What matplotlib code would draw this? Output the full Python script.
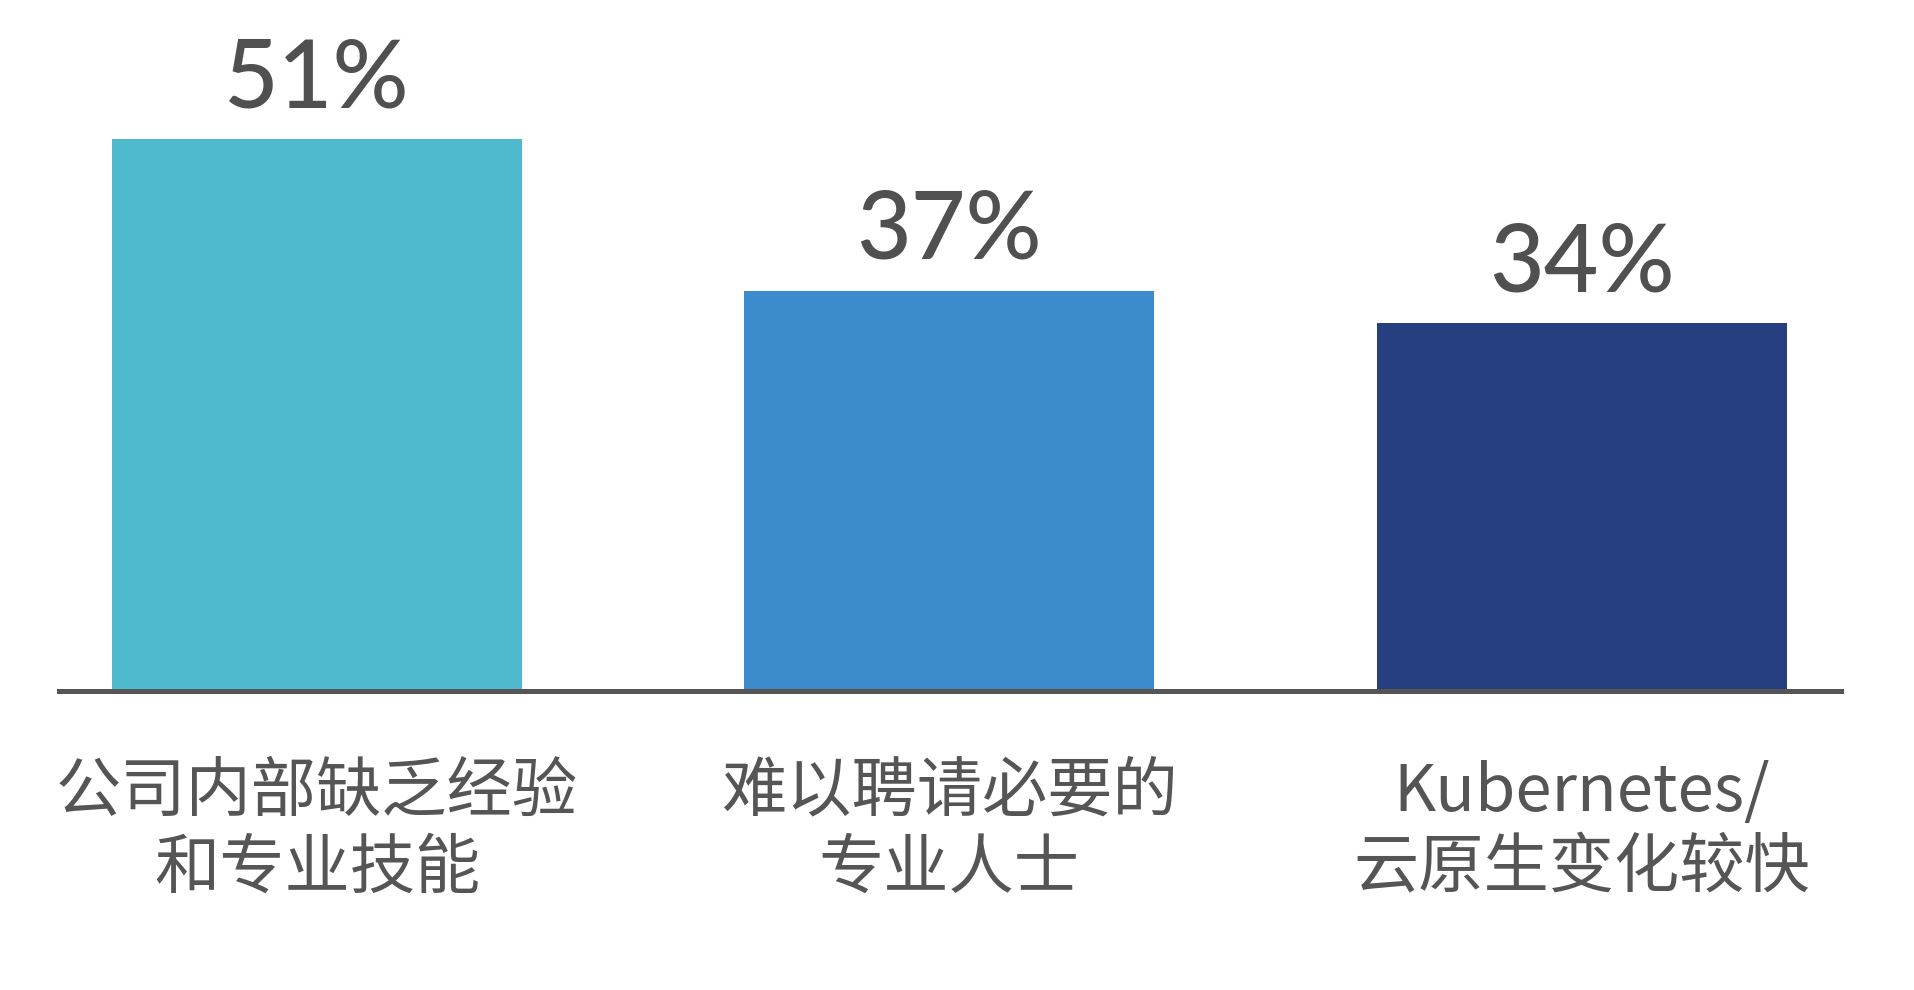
import matplotlib.pyplot as plt
import numpy as np

plt.rcParams['font.family'] = ['Noto Sans CJK SC', 'DejaVu Sans']

labels = ['公司内部缺乏经验\n和专业技能', '难以聘请必要的\n专业人士', 'Kubernetes/\n云原生变化较快']
values = np.array([51, 37, 34])
colors = ['#4FBACE', '#3B8BCD', '#263F80']
text_color = '#555555'

fig = plt.figure(figsize=(19.14, 9.9), dpi=100)
ax = fig.add_axes([0.0308, 0.302, 0.931, 0.698])

x = np.arange(len(values))
ax.bar(x, values, width=0.648, color=colors, align='center')

# value labels above each bar
for a, b in zip(x, values):
    ax.annotate('%d%%' % b, (a, b), xytext=(0, 23), textcoords='offset points',
                ha='center', va='baseline', fontsize=68, color='#505050',
                family=['Lato', 'DejaVu Sans'], fontweight='medium')

ax.axhline(0, color='#555555', lw=3.6, clip_on=False, zorder=3)

ax.set_xlim(-0.408, 2.41)
ax.set_ylim(0, 63.86)
ax.set_xticks(x)
ax.set_xticklabels(labels, fontsize=47, color=text_color, linespacing=1.21,
                   fontweight='medium')
ax.tick_params(axis='x', length=0, pad=49)
ax.set_yticks([])
for s in ax.spines.values():
    s.set_visible(False)

plt.savefig('out.png', dpi=100)
